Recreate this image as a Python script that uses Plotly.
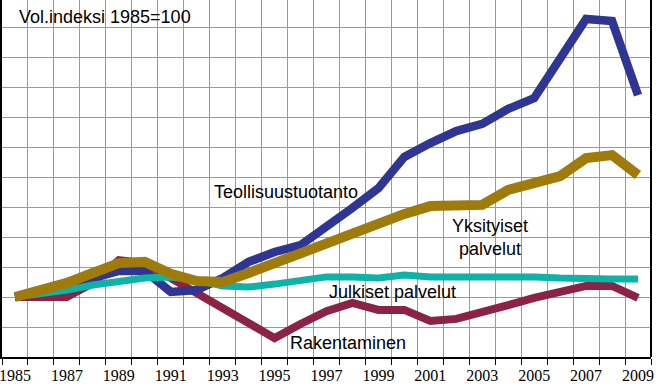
import plotly.graph_objects as go

years = list(range(1985, 2010))

teollisuus = [100, 101.7, 103.7, 106.3, 108.7, 108.7, 101.7, 102.3, 106.3, 111.7,
              115, 117.3, 123.3, 129.7, 136.3, 146.7, 151.3, 155.3, 157.7, 162.7,
              166.3, 179.7, 192.7, 192, 167.3]
yksityiset = [100, 102, 104.7, 108, 111.3, 111.7, 107.7, 105.3, 105, 108,
              111.3, 114.3, 117.7, 121.3, 124.7, 127.7, 130.3, 130.7, 130.7, 135.7,
              138, 140.3, 146.3, 147.3, 140.7]
julkiset = [100, 101, 102.3, 104, 105, 106.3, 106.7, 105.7, 103.7, 103.3,
            104.3, 105.7, 106.7, 106.7, 106.3, 107.3, 106.7, 106.7, 106.8, 106.7,
            106.7, 106.3, 106, 106, 106]
rakentaminen = [100, 99.7, 100, 104.7, 112.3, 111.3, 106.3, 101.7, 97, 91.7,
                86.3, 91, 95.3, 98, 95.7, 95.7, 92, 92.7, 94.7, 97.3,
                99.7, 101.7, 103.7, 103.7, 99.7]

tick_years = list(range(1985, 2010, 2))
tick_labels = [str(y) for y in tick_years]

fig = go.Figure()
series = [
    ("Rakentaminen", rakentaminen, "#8C2244", 8),
    ("Teollisuustuotanto", teollisuus, "#2E3592", 8.5),
    ("Julkiset palvelut", julkiset, "#0DB3A6", 7),
    ("Yksityiset palvelut", yksityiset, "#9E7B0B", 10),
]
for name, vals, color, w in series:
    fig.add_trace(go.Scatter(x=years, y=vals, mode="lines", name=name,
                             line=dict(color=color, width=w), hoverinfo="skip"))

ann_font = dict(family="Liberation Sans, Arial, sans-serif", size=18, color="black")
annotations = [
    dict(text="Vol.indeksi 1985=100", x=1985.08, y=193.5, xanchor="left", yanchor="middle"),
    dict(text="Teollisuustuotanto", x=1992.59, y=135, xanchor="left", yanchor="middle"),
    dict(text="Yksityiset<br>palvelut", x=2003.3, y=120, xanchor="center", yanchor="middle", align="center"),
    dict(text="Julkiset palvelut", x=1997.02, y=101.7, xanchor="left", yanchor="middle"),
    dict(text="Rakentaminen", x=1995.52, y=84.7, xanchor="left", yanchor="middle"),
]
for a in annotations:
    a.update(showarrow=False, font=ann_font, xref="x", yref="y")

fig.update_layout(
    width=661, height=391,
    margin=dict(l=2, r=10, t=0, b=34),
    paper_bgcolor="white", plot_bgcolor="white",
    showlegend=False,
    annotations=annotations,
    xaxis=dict(
        range=[1984.5, 2009.5],
        tickmode="array", tickvals=tick_years, ticktext=tick_labels,
        ticks="", showgrid=False, zeroline=False, ticklabeloverflow="allow",
        ticklabelstandoff=3,
        showline=True, linecolor="black", linewidth=2,
        tickfont=dict(family="Liberation Serif, Times New Roman, serif", size=16, color="black"),
        minor=dict(tick0=1985.5, dtick=1, ticks="outside", ticklen=6, tickcolor="black",
                   tickwidth=1, showgrid=True, gridcolor="#9a9a9a", gridwidth=1),
    ),
    yaxis=dict(
        range=[80, 199], tick0=80, dtick=10,
        showticklabels=False, ticks="outside", ticklen=3, tickcolor="black",
        showgrid=True, gridcolor="#9a9a9a", gridwidth=1, zeroline=False,
        showline=True, linecolor="black", linewidth=2,
    ),
    shapes=[dict(type="line", xref="paper", yref="paper", x0=1, x1=1, y0=0, y1=1,
                 line=dict(color="black", width=2))],
)

fig.write_html("out.html", config={"displayModeBar": False},
               post_script="document.body.style.margin='0';document.body.style.overflow='hidden';")
